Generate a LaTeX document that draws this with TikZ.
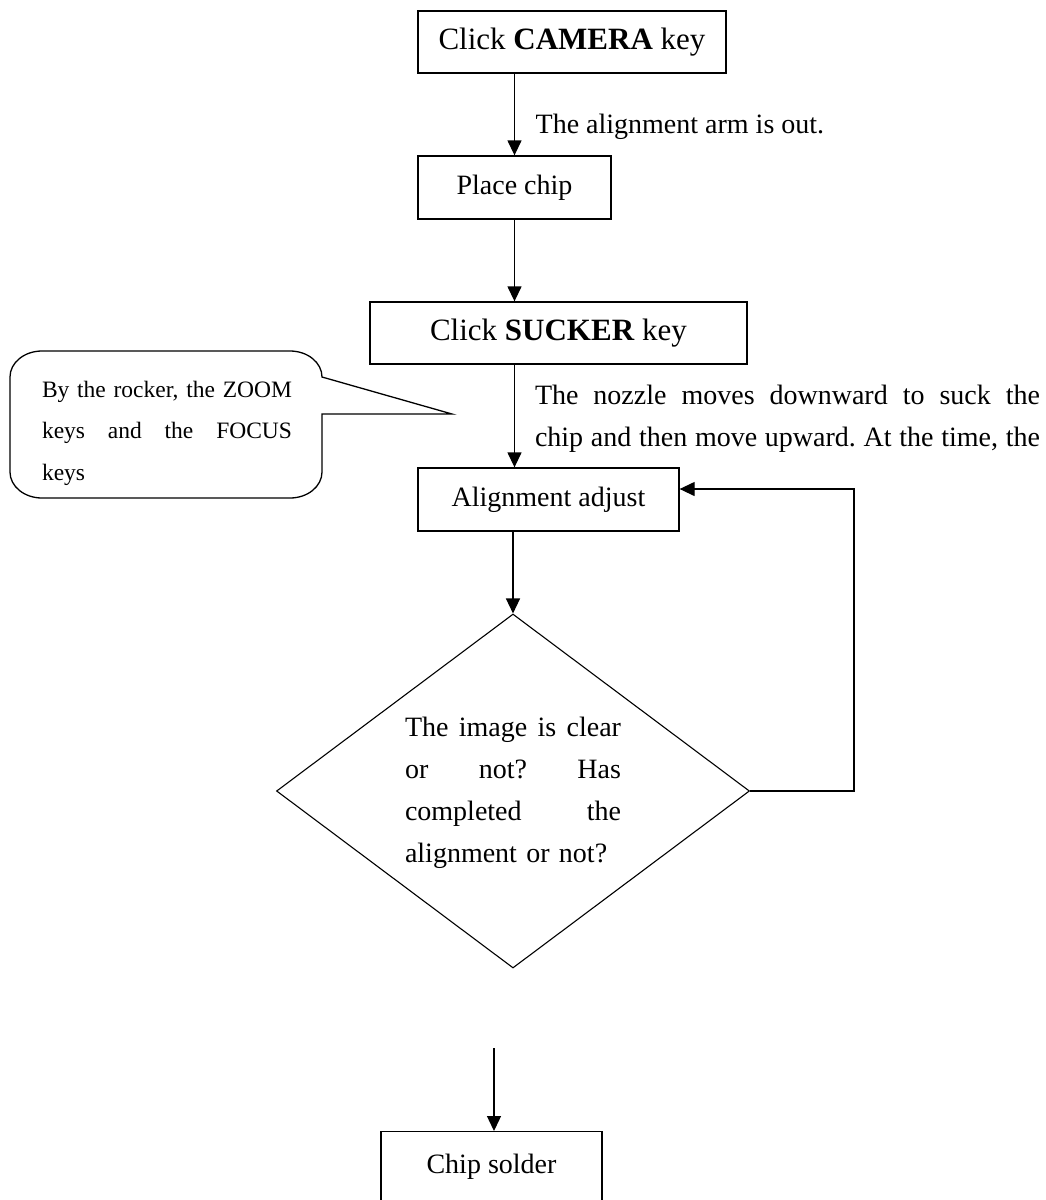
\documentclass[tikz,border=0pt]{standalone}
\usepackage{fontspec}
\setmainfont{Liberation Serif}
\usetikzlibrary{arrows.meta,shapes.geometric}
\newcommand\jline[2]{\makebox[#1][s]{#2}}
\begin{document}
\frenchspacing
\begin{tikzpicture}[x=1pt,y=-1pt,line width=1.3pt,
  box/.style={draw,rectangle,inner sep=0pt,align=center,font=\fontsize{28}{34}\selectfont,text height=19pt,text depth=6pt},
  bigbox/.style={box,font=\fontsize{31}{37}\selectfont,text height=21pt,text depth=7pt},
  flow/.style={-{Triangle[length=15pt,width=14pt]}},
  body/.style={font=\fontsize{28}{42}\selectfont,inner sep=0pt,align=left},
  note/.style={font=\fontsize{23.5}{41.5}\selectfont,inner sep=0pt,align=left},
]
\useasboundingbox (0,0) rectangle (1046,1200);
\clip (0,0) rectangle (1046,1200);

% boxes
\node[bigbox,minimum width=308pt,minimum height=62pt] (camera) at (572,42) {Click \textbf{CAMERA} key};
\node[box,minimum width=193pt,minimum height=63pt] (place) at (514.5,187.5) {Place chip};
\node[bigbox,minimum width=377pt,minimum height=62pt] (sucker) at (558.5,333) {Click \textbf{SUCKER} key};
\node[box,minimum width=261pt,minimum height=63pt] (adjust) at (548.5,499.5) {Alignment adjust};
\node[draw,diamond,minimum width=473pt,minimum height=354pt,inner sep=0pt,line width=1.1pt] (dec) at (513,791) {};
\node[draw,rectangle,inner sep=0pt,minimum width=221pt,text height=42pt,text depth=80pt,anchor=north,font=\fontsize{28}{34}\selectfont] (solder) at (491.5,1131) {Chip solder};

% texts
\node[body,text width=216pt] (dectext) at (513,793)
  {\jline{216pt}{The\hfill image\hfill is\hfill clear}\\
   \jline{216pt}{or\hfill not?\hfill Has}\\
   \jline{216pt}{completed\hfill the}\\
   alignment or not?};
\node[body,anchor=base west] (armout) at (535,133) {The alignment arm is out.};
\node[body,text width=505pt] (nozzle) at (787.5,419)
  {\jline{505pt}{The\hfill nozzle\hfill moves\hfill downward\hfill to\hfill suck\hfill the}\\
   \jline{505pt}{chip\hfill and\hfill then\hfill move\hfill upward.\hfill At\hfill the\hfill time,\hfill the}};

% callout
\draw (42,351) -- (290,351) .. controls (307.7,351) and (322,362.6) .. (322,377)
  -- (452,414) -- (322,414) -- (322,472) .. controls (322,486.4) and (307.7,498) .. (290,498)
  -- (42,498) .. controls (24.3,498) and (10,486.4) .. (10,472)
  -- (10,377) .. controls (10,362.6) and (24.3,351) .. (42,351) -- cycle;
\node[note,text width=250pt] (callout) at (167,433)
  {\jline{250pt}{By\hfill the\hfill rocker,\hfill the\hfill ZOOM}\\
   \jline{250pt}{keys\hfill and\hfill the\hfill FOCUS}\\
   keys};

% connectors
\draw[flow] (camera.south -| place.north) -- (place.north);
\draw[flow] (place.south) -- (place.south |- sucker.north);
\draw[flow] (sucker.south -| place.south) -- (adjust.north -| place.south);
\draw[flow] (adjust.south -| dec.north) -- (dec.north);
\coordinate (loop) at (854,489);
\draw[flow] (dec.east) -| (loop) -- (adjust.east |- loop);
\coordinate (free) at (494,1048);
\draw[flow] (free) -- (free |- solder.north);
\end{tikzpicture}
\end{document}
